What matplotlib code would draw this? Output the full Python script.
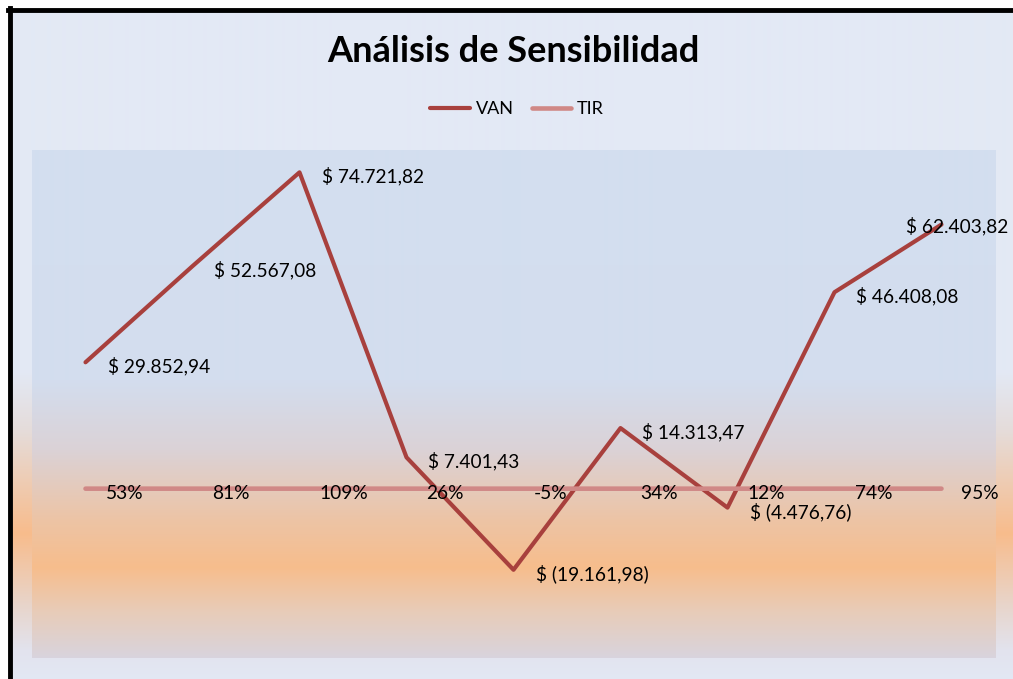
import numpy as np
import matplotlib
matplotlib.use('Agg')
import matplotlib.pyplot as plt
from matplotlib.colors import to_rgb

plt.rcParams['font.family'] = ['Lato', 'DejaVu Sans']

# ── data ────────────────────────────────────────────────────────────────
categories = list(range(1, 10))
van = [29852.94, 52567.08, 74721.82, 7401.43, -19161.98,
       14313.47, -4476.76, 46408.08, 62403.82]
tir = [0.53, 0.81, 1.09, 0.26, -0.05, 0.34, 0.12, 0.74, 0.95]
van_labels = ['$ 29.852,94', '$ 52.567,08', '$ 74.721,82', '$ 7.401,43',
              '$ (19.161,98)', '$ 14.313,47', '$ (4.476,76)', '$ 46.408,08',
              '$ 62.403,82']
tir_labels = ['53%', '81%', '109%', '26%', '-5%', '34%', '12%', '74%', '95%']

W, H = 1013, 679
fig = plt.figure(figsize=(W/100, H/100), dpi=100)
fig.patch.set_facecolor('white')


def vgrad(ax, stops, top, bottom):
    """vertical gradient image; stops are (pixel y, colour)"""
    ys = np.arange(top, bottom)
    pos = [s[0] for s in stops]
    cols = np.array([to_rgb(s[1]) for s in stops])
    img = np.stack([np.interp(ys, pos, cols[:, k]) for k in range(3)], axis=-1)
    ax.imshow(img[:, None, :], aspect='auto', extent=[0, 1, 0, 1],
              interpolation='bilinear')
    ax.set_axis_off()


# chart area background (frame cropped at right/bottom)
bg = fig.add_axes([12/W, 0, 1 - 12/W, 1 - 12/H], zorder=0)
vgrad(bg, [(12, '#E3E9F5'), (370, '#E3E9F5'), (430, '#E5DCDA'),
           (533, '#F8BC8C'), (605, '#E8D5CB'), (650, '#E2E3EE'),
           (679, '#E3E8F4')], 12, 679)
fig.add_artist(plt.Line2D([10/W, 10/W], [0, 1 - 8/H], color='black', lw=3.5))
fig.add_artist(plt.Line2D([8/W, 1], [1 - 10/H, 1 - 10/H], color='black', lw=3.5))

# plot area
rect = [32/W, 1 - 658/H, (995 - 32)/W, (658 - 150)/H]
pbg = fig.add_axes(rect, zorder=1)
vgrad(pbg, [(150, '#D3DFF0'), (380, '#D3DDEE'), (450, '#DBD2D6'),
            (520, '#EDC4A5'), (567, '#F7BD8C'), (612, '#E8CCB9'),
            (658, '#D8D4DE')], 150, 658)
ax = fig.add_axes(rect, zorder=2)
ax.set_facecolor('none')

ax.plot(categories, van, color='#A8403D', lw=3.0, solid_capstyle='round',
        label='VAN')
ax.plot(categories, tir, color='#D08886', lw=3.3, solid_capstyle='round',
        label='TIR')

ax.set_xlim(0.5, 9.5)
ax.set_ylim(-40000, 80000)
ax.set_axis_off()

for i, (x, y, s) in enumerate(zip(categories, van, van_labels)):
    if i == len(van) - 1:
        ax.annotate(s, (x, y), xytext=(-35, -2), textcoords='offset pixels',
                    ha='left', va='center', fontsize=13.8, color='black',
                    annotation_clip=False)
    else:
        ax.annotate(s, (x, y), xytext=(22, -4), textcoords='offset pixels',
                    ha='left', va='center', fontsize=13.8, color='black')

for x, y, s in zip(categories, tir, tir_labels):
    ax.annotate(s, (x, y), xytext=(20, -5), textcoords='offset pixels',
                ha='left', va='center', fontsize=13.8, color='black')

fig.text(513/W, 1 - 52/H, 'Análisis de Sensibilidad', ha='center',
         va='center', fontsize=26, fontweight='bold', color='black',
         zorder=3)

leg = fig.legend(*ax.get_legend_handles_labels(), loc='center',
                 bbox_to_anchor=(517/W, 1 - 109/H), ncol=2,
                 frameon=False, fontsize=13, handlelength=2.2,
                 handletextpad=0.3, columnspacing=1.0)
leg.set_zorder(3)

fig.savefig('out.png', dpi=100)
